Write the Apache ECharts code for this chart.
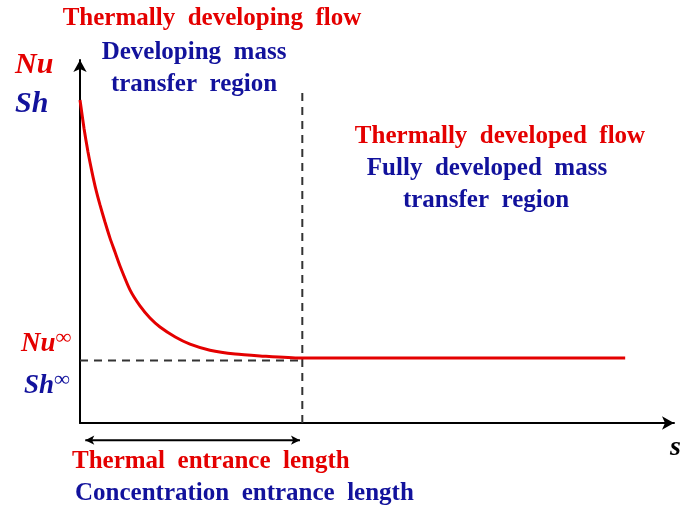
<!DOCTYPE html>
<html>
<head>
<meta charset="utf-8">
<script src="https://cdn.jsdelivr.net/npm/echarts@6/dist/echarts.min.js"></script>
<style>
  html, body { margin: 0; padding: 0; background: #fff; }
  #chart { width: 681px; height: 509px; }
</style>
</head>
<body>
<div id="chart"></div>
<script>
// Schematic Nu / Sh decay along the flow coordinate s (arbitrary units)
const curveX = [0, 0.68, 1.36, 2.04, 2.72, 3.40, 4.25, 5.10, 5.95, 6.80, 8.50, 10.2, 11.9, 13.6, 16.2, 18.7, 22.1, 26.4, 30.6, 37.4, 92.7];
const curveY = [90.5, 82.6, 75.9, 70.3, 65.3, 61.1, 56.3, 51.8, 47.9, 44.0, 37.3, 32.8, 29.4, 26.9, 24.1, 22.1, 20.4, 19.3, 18.8, 18.2, 18.2];

// Asymptotic level and entrance length
const asymptoteLevel = 17.5;
const entranceLength = 37.8;
const entranceTop = 93.8;
const arrowLevel = -4.8;
const arrowSpan = [0.9, 37.4];

const RED = '#e40000';
const BLUE = '#12129c';
const FONT = '"Liberation Serif", "Times New Roman", serif';

const curveData = curveX.map((x, i) => [x, curveY[i]]);

const chart = echarts.init(document.getElementById('chart'), null, { renderer: 'canvas' });

function txt(text, x, y, color, align, size) {
  return {
    type: 'text', x: x, y: y,
    style: {
      text: text, fill: color, align: align || 'left', verticalAlign: 'top',
      font: 'bold ' + (size || 25) + 'px ' + FONT
    }
  };
}

function symLabel(base, color, x, y, size, supSize) {
  return {
    type: 'text', x: x, y: y,
    style: {
      text: '{b|' + base + '}{s|∞}',
      fill: color, verticalAlign: 'top',
      rich: {
        b: { font: 'italic bold ' + size + 'px ' + FONT, fill: color },
        s: { font: 'bold ' + supSize + 'px ' + FONT, fill: color, verticalAlign: 'top', padding: [0, 0, 12, 0] }
      }
    }
  };
}

chart.setOption({
  animation: false,
  backgroundColor: '#fff',
  grid: { left: 80, right: 7, top: 60, bottom: 86, containLabel: false },
  xAxis: {
    type: 'value', min: 0, max: 101,
    axisLine: { show: true, onZero: false, symbol: ['none', 'arrow'], symbolSize: [10, 12],
      lineStyle: { color: '#000', width: 2 } },
    axisTick: { show: false }, axisLabel: { show: false }, splitLine: { show: false }
  },
  yAxis: {
    type: 'value', min: 0, max: 101.7,
    axisLine: { show: true, onZero: false, symbol: ['none', 'arrow'], symbolSize: [10, 12],
      lineStyle: { color: '#000', width: 2 } },
    axisTick: { show: false }, axisLabel: { show: false }, splitLine: { show: false }
  },
  series: [
    {
      type: 'line', data: curveData, smooth: 0.2,
      symbol: 'none', lineStyle: { color: RED, width: 3 }, z: 5
    },
    {
      type: 'line', data: [[0, asymptoteLevel], [entranceLength, asymptoteLevel]],
      symbol: 'none', lineStyle: { color: '#333', width: 2, type: [8, 6] }, z: 3
    },
    {
      type: 'line', data: [[entranceLength, 0], [entranceLength, entranceTop]],
      symbol: 'none', lineStyle: { color: '#333', width: 2, type: [8, 6] }, z: 3
    },
    {
      type: 'line', clip: false,
      data: [
        { value: [arrowSpan[0], arrowLevel], symbol: 'arrow', symbolRotate: 90 },
        { value: [arrowSpan[1], arrowLevel], symbol: 'arrow', symbolRotate: -90 }
      ],
      symbolSize: [7, 9], showAllSymbol: true,
      itemStyle: { color: '#000' },
      lineStyle: { color: '#000', width: 2 }, z: 4
    }
  ],
  graphic: [
    txt('Thermally  developing  flow', 212, 6, RED, 'center'),
    txt('Developing  mass', 194, 40, BLUE, 'center'),
    txt('transfer  region', 194, 72, BLUE, 'center'),
    txt('Thermally  developed  flow', 500, 124, RED, 'center'),
    txt('Fully  developed  mass', 487, 156, BLUE, 'center'),
    txt('transfer  region', 486, 188, BLUE, 'center'),
    txt('Thermal  entrance  length', 72, 449, RED, 'left'),
    txt('Concentration  entrance  length', 75, 481, BLUE, 'left'),
    { type: 'text', x: 15, y: 50, style: { text: 'Nu', fill: RED, font: 'italic bold 30px ' + FONT, verticalAlign: 'top' } },
    { type: 'text', x: 15, y: 89, style: { text: 'Sh', fill: BLUE, font: 'italic bold 30px ' + FONT, verticalAlign: 'top' } },
    symLabel('Nu', RED, 21, 327, 27, 22),
    symLabel('Sh', BLUE, 24, 369, 27, 22),
    { type: 'text', x: 670, y: 434, style: { text: 's', fill: '#000', font: 'italic bold 28px ' + FONT, verticalAlign: 'top' } }
  ]
});
</script>
</body>
</html>
